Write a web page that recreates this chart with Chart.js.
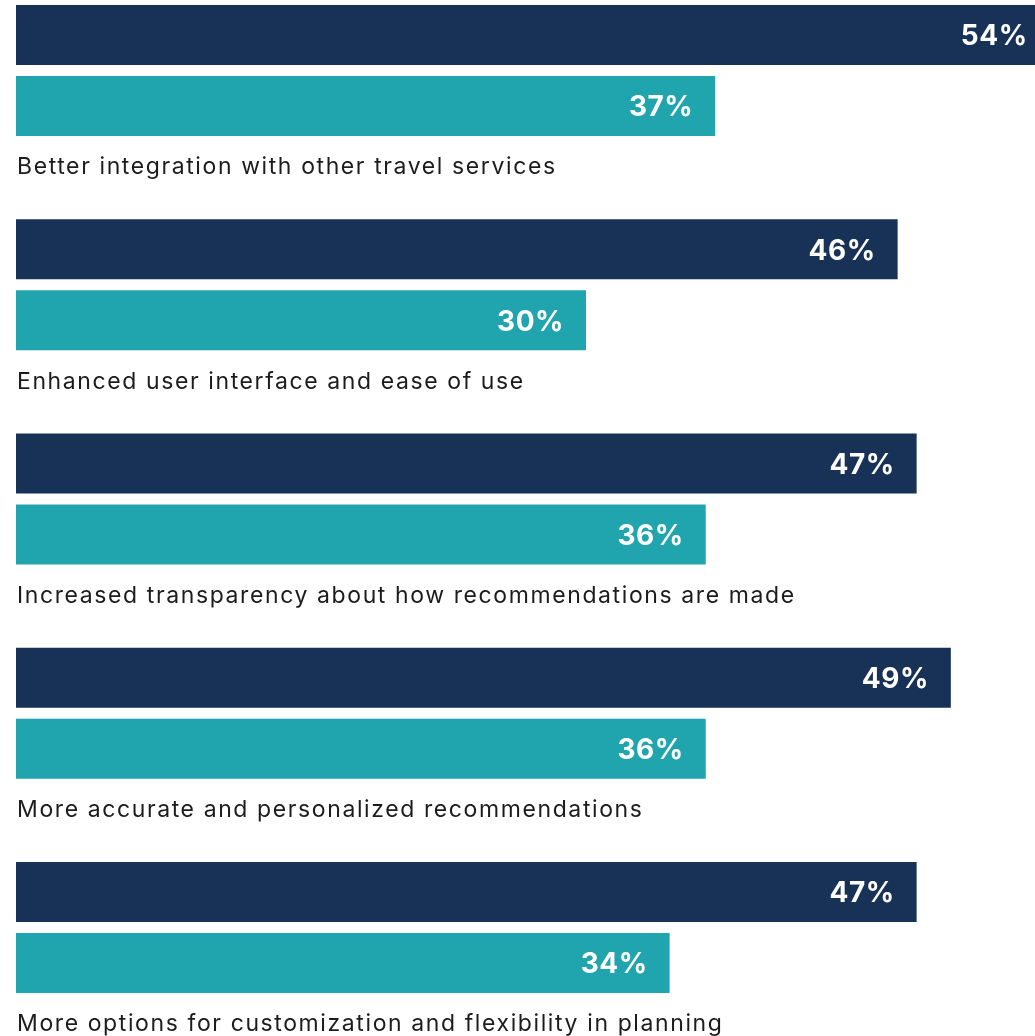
<!DOCTYPE html>
<html>
<head>
<meta charset="utf-8">
<script src="https://cdn.jsdelivr.net/npm/chart.js@4.4.1/dist/chart.umd.min.js"></script>
<style>
    html, body { margin: 0; padding: 0; background: #ffffff; }
    canvas { display: block; }
</style>
</head>
<body>
<canvas id="chart" width="1035" height="1036"></canvas>
<script>
// Categories (shown under each pair of bars)
const categories = [
    'Better integration with other travel services',
    'Enhanced user interface and ease of use',
    'Increased transparency about how recommendations are made',
    'More accurate and personalized recommendations',
    'More options for customization and flexibility in planning'
];

// Series values in percent (labels are rounded)
const navyValues = [54.4, 46.4, 47.4, 49.2, 47.4];
const tealValues = [36.8, 30.0, 36.3, 36.3, 34.4];

const navyColor = '#173157';
const tealColor = '#20a5ae';

// Wider tracking for the category labels, like the original typeface
const tracking = {
    id: 'tracking',
    beforeDraw(chart) {
        chart.ctx.letterSpacing = '1.6px';
    }
};

// Draw the white percentage inside the end of each bar
const valueLabels = {
    id: 'valueLabels',
    afterDatasetsDraw(chart) {
        const ctx = chart.ctx;
        ctx.save();
        ctx.letterSpacing = '0.5px';
        ctx.font = 'bold 28px Inter, "Open Sans", sans-serif';
        ctx.fillStyle = '#ffffff';
        ctx.textAlign = 'right';
        ctx.textBaseline = 'middle';
        chart.data.datasets.forEach(function (ds, i) {
            const meta = chart.getDatasetMeta(i);
            meta.data.forEach(function (bar, j) {
                ctx.fillText(Math.round(ds.data[j]) + '%', bar.x - 22, bar.y + 2);
            });
        });
        ctx.restore();
    }
};

new Chart(document.getElementById('chart'), {
    type: 'bar',
    data: {
        labels: categories,
        datasets: [
            {
                label: 'Navy',
                data: navyValues,
                backgroundColor: navyColor,
                categoryPercentage: 0.6628,
                barPercentage: 0.845,
                clip: false
            },
            {
                label: 'Teal',
                data: tealValues,
                backgroundColor: tealColor,
                categoryPercentage: 0.6628,
                barPercentage: 0.845,
                clip: false
            }
        ]
    },
    options: {
        indexAxis: 'y',
        responsive: false,
        animation: false,
        layout: {
            padding: { left: 16, right: 0, top: 70.5, bottom: 108.5 }
        },
        plugins: {
            legend: { display: false },
            tooltip: { enabled: false }
        },
        scales: {
            x: {
                display: false,
                min: 0,
                max: 53.63
            },
            y: {
                offset: false,
                grid: { display: false, drawTicks: false },
                border: { display: false },
                afterFit: function (scale) { scale.width = 0; },
                ticks: {
                    mirror: true,
                    padding: 1,
                    autoSkip: false,
                    labelOffset: 97,
                    color: '#1c1c1c',
                    font: { family: 'Inter, "Open Sans", sans-serif', size: 23 }
                }
            }
        }
    },
    plugins: [tracking, valueLabels]
});
</script>
</body>
</html>
